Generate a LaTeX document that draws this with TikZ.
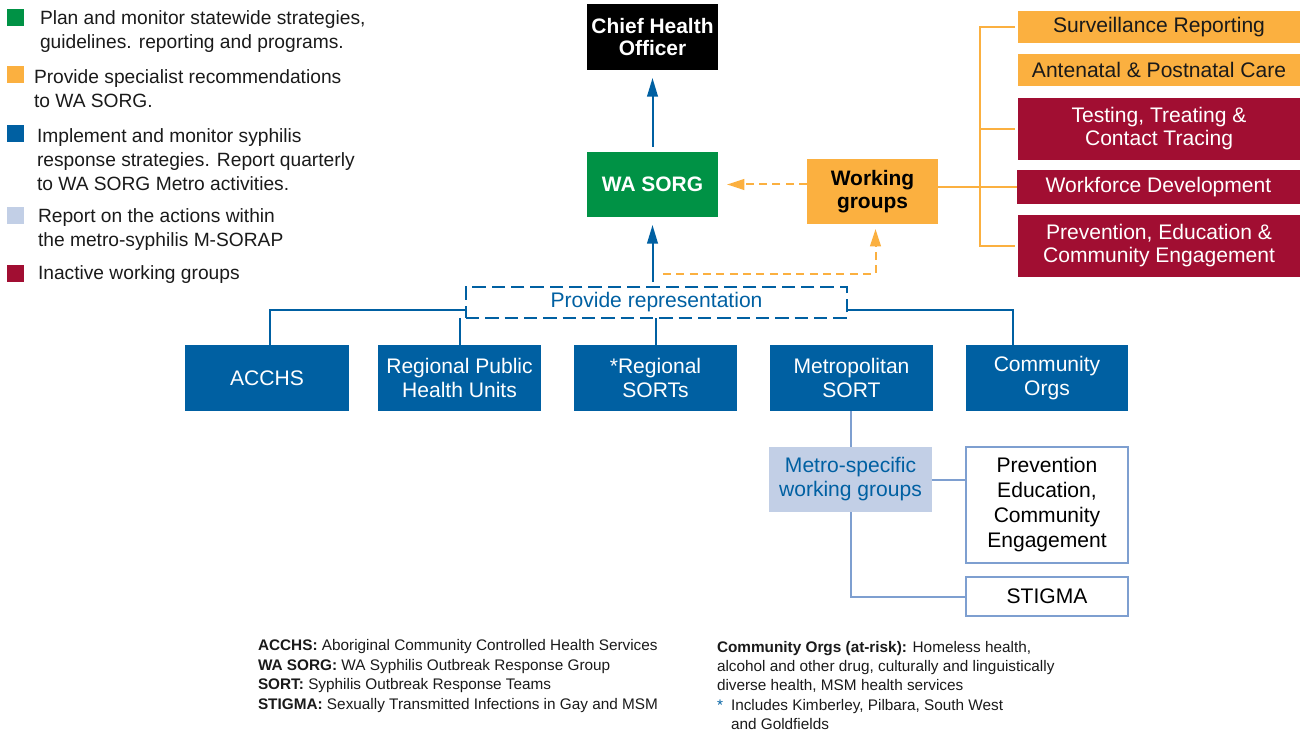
\documentclass[tikz,border=0pt]{standalone}
\usepackage{fontspec}
\setmainfont{Liberation Sans}
\usetikzlibrary{arrows.meta,positioning}
\definecolor{sorggreen}{HTML}{009245}
\definecolor{wgorange}{HTML}{FBB040}
\definecolor{sortblue}{HTML}{0060A2}
\definecolor{metrolight}{HTML}{C2CFE6}
\definecolor{metroedge}{HTML}{7E9FD0}
\definecolor{inactred}{HTML}{A10E32}
\definecolor{textdark}{HTML}{1A1A1A}

\begin{document}
\begin{tikzpicture}[
  x=0.75pt, y=-0.75pt,
  every node/.style={inner sep=0pt, outer sep=0pt},
  box/.style={rectangle, align=center, font=\fontsize{15.8}{18}\selectfont},
  bluebox/.style={box, fill=sortblue, text=white, minimum height=49.5pt},
  wgbox/.style={box, fill=wgorange, text=textdark, minimum width=211.5pt},
  redbox/.style={box, fill=inactred, text=white, minimum width=211.5pt},
  whitebox/.style={box, draw=metroedge, line width=1.5pt, fill=white, text=black, minimum width=121.5pt},
  legsq/.style={rectangle, minimum size=12.75pt},
  legtxt/.style={anchor=west, align=left, text=textdark, font=\fontsize{14.4}{18}\selectfont},
  note/.style={align=left, text=textdark, font=\fontsize{11.5}{14.6}\selectfont},
  barr/.style={-{Triangle[length=14pt, width=8pt]}, sortblue, line width=1.5pt},
  oarr/.style={-{Triangle[length=13pt, width=8pt]}, wgorange, line width=1.5pt, dash pattern=on 6pt off 4pt},
  bline/.style={sortblue, line width=1.5pt},
  oline/.style={wgorange, line width=1.5pt},
  mline/.style={metroedge, line width=1.5pt}
]
\useasboundingbox (0,0) rectangle (1301,734);

% legend
\node[legsq, fill=sorggreen] (lg1) at (15.5,18) {};
\node[legtxt] (lt1) at (40,32) {Plan and monitor statewide strategies,\\guidelines. reporting and programs.};
\node[legsq, fill=wgorange] (lg2) at (15.5,75) {};
\node[legtxt] (lt2) at (34,88.5) {Provide specialist recommendations\\to WA SORG.};
\node[legsq, fill=sortblue] (lg3) at (15.5,133.5) {};
\node[legtxt] (lt3) at (37,160) {Implement and monitor syphilis\\response strategies. Report quarterly\\to WA SORG Metro activities.};
\node[legsq, fill=metrolight] (lg4) at (15.5,216) {};
\node[legtxt] (lt4) at (38,229.5) {Report on the actions within\\the metro-syphilis M-SORAP};
\node[legsq, fill=inactred] (lg5) at (15.5,273.5) {};
\node[legtxt] (lt5) at (38,275) {Inactive working groups};

% top of the structure
\node[box, fill=black, text=white, minimum width=98.25pt, minimum height=49.5pt,
  font=\fontsize{15.7}{16.5}\selectfont\bfseries] (cho) at (652.5,37) {Chief Health\\Officer};
\node[box, fill=sorggreen, text=white, minimum width=98.25pt, minimum height=48.75pt,
  font=\fontsize{15.7}{16.5}\selectfont\bfseries] (sorg) at (652.5,184.5) {WA SORG};
\node[box, fill=wgorange, text=black, minimum width=98.25pt, minimum height=48.75pt,
  font=\fontsize{15.7}{17.5}\selectfont\bfseries] (wg) at (872.5,191.5) {Working\\groups};
\node[box, draw=sortblue, line width=1.5pt, dash pattern=on 10pt off 4.5pt, text=sortblue,
  minimum width=285.75pt, minimum height=23.25pt] (prov) at (656.5,302.5) {Provide representation};

% working groups
\node[wgbox, minimum height=24pt] (surv) at (1159,27) {Surveillance Reporting};
\node[wgbox, minimum height=24pt] (ante) at (1159,70) {Antenatal \& Postnatal Care};
\node[redbox, minimum height=46.5pt, font=\fontsize{15.8}{17.25}\selectfont] (test) at (1159,129) {Testing, Treating \&\\Contact Tracing};
\node[redbox, minimum width=212.25pt, minimum height=25.5pt] (wfd) at (1158.5,187) {Workforce Development};
\node[redbox, minimum height=46.5pt, font=\fontsize{15.8}{17.25}\selectfont] (pece) at (1159,246) {Prevention, Education \&\\Community Engagement};

% represented bodies
\node[bluebox, minimum width=123pt] (acchs) at (267,378) {ACCHS};
\node[bluebox, minimum width=122.25pt] (rphu) at (459.5,378) {Regional Public\\Health Units};
\node[bluebox, minimum width=122.25pt] (rsort) at (655.5,378) {*Regional\\SORTs};
\node[bluebox, minimum width=122.25pt] (msort) at (851.5,378) {Metropolitan\\SORT};
\node[bluebox, minimum width=121.5pt] (corgs) at (1047,378) {Community\\Orgs};

% metro groups
\node[box, fill=metrolight, text=sortblue, minimum width=122.25pt, minimum height=48.75pt] (mswg) at (850.5,479.5) {Metro-specific\\working groups};
\node[whitebox, minimum height=87pt, font=\fontsize{15.8}{18.75}\selectfont] (prev) at (1047,505) {Prevention\\Education,\\Community\\Engagement};
\node[whitebox, minimum height=29.25pt] (stigma) at (1047,596.5) {STIGMA};

% connectors
\coordinate (bx) at (980,0);
\coordinate (wgin) at (663,274);
\draw[barr, shorten <=3.75pt, shorten >=6pt] (sorg.north) -- (cho.south);
\draw[barr, shorten >=6pt] ([yshift=3.75pt]prov.north -| sorg.south) -- (sorg.south);
\draw[oarr, shorten >=6.75pt] (wg.west |- sorg.east) -- (sorg.east);
\draw[oarr, shorten >=3.75pt] (wgin) -| ([xshift=2.25pt]wg.south);
\draw[oline] (wg.east |- wfd.west) -- (wfd.west);
\draw[oline] ([xshift=-2.25pt]surv.west) -| (bx |- pece.west) -- ([xshift=-2.25pt]pece.west);
\draw[oline] (bx |- test.west) -- ([xshift=-2.25pt]test.west);
\draw[bline] ([yshift=-5.25pt]prov.west) -| ([xshift=2.25pt]acchs.north);
\draw[bline] ([yshift=-5.25pt]prov.east) -| ([xshift=-25.5pt]corgs.north);
\draw[bline] (prov.south -| rphu.north) -- (rphu.north);
\draw[bline] (prov.south -| rsort.north) -- (rsort.north);
\draw[mline] (mswg.north |- msort.south) -- (mswg.north);
\draw[mline] (mswg.east) -- (mswg.east -| prev.west);
\draw[mline] (mswg.south) |- (stigma.west);

% notes
\node[note, anchor=west] (abbr) at (258,676) {\textbf{ACCHS:} Aboriginal Community Controlled Health Services\\
  \textbf{WA SORG:} WA Syphilis Outbreak Response Group\\
  \textbf{SORT:} Syphilis Outbreak Response Teams\\
  \textbf{STIGMA:} Sexually Transmitted Infections in Gay and MSM};
\node[note, anchor=west] (orgs) at (717,685.5) {\textbf{Community Orgs (at-risk):} Homeless health,\\
  alcohol and other drug, culturally and linguistically\\
  diverse health, MSM health services\\
  \makebox[10.5pt][l]{\textcolor{sortblue}{*}}Includes Kimberley, Pilbara, South West\\
  \hspace*{10.5pt}and Goldfields};
\end{tikzpicture}
\end{document}
